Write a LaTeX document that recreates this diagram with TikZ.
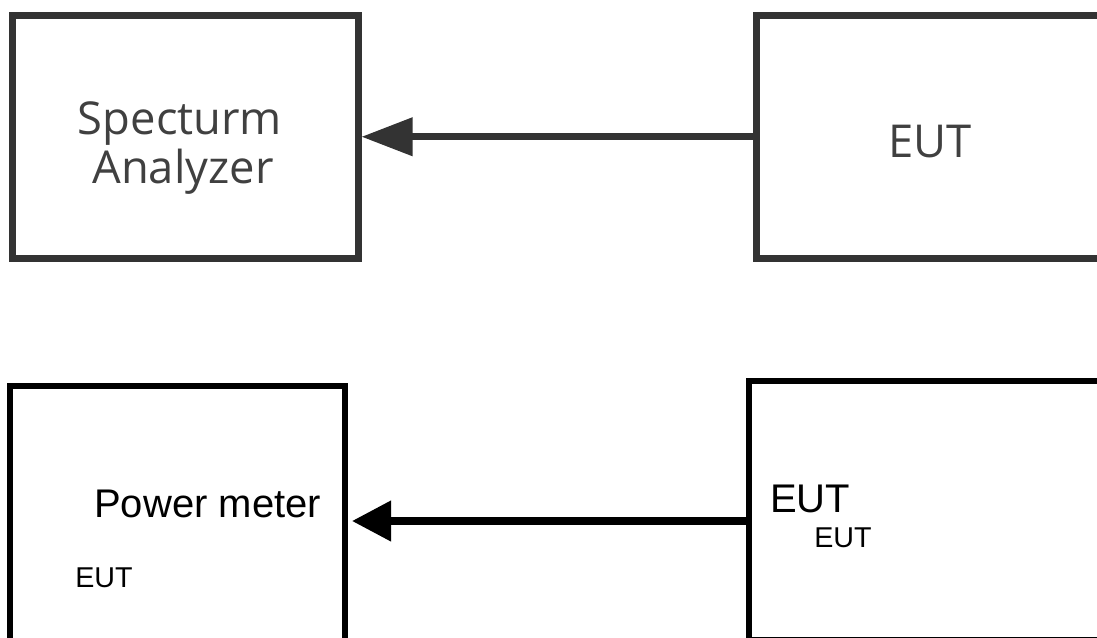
\documentclass[tikz,border=0pt]{standalone}
\usepackage{fontspec}
\setmainfont{Liberation Sans}
\newfontfamily\osans{Open Sans}
\usetikzlibrary{arrows.meta}
\definecolor{dk}{HTML}{333333}
\definecolor{tx}{HTML}{404040}
\begin{document}
\begin{tikzpicture}[x=0.75pt,y=-0.75pt,
  topbox/.style={draw=dk, line width=5.25pt, inner sep=0pt, rectangle},
  botbox/.style={draw=black, line width=4.5pt, inner sep=0pt, rectangle},
  toptext/.style={inner sep=0pt, anchor=base, text=tx, font=\osans\fontsize{34}{40}\selectfont},
  bigtext/.style={inner sep=0pt, anchor=base west, text=black, font=\fontsize{30}{36}\selectfont},
  smalltext/.style={inner sep=0pt, anchor=base west, text=black, font=\fontsize{21.5}{26}\selectfont},
  toparrow/.style={draw=dk, line width=5.25pt, -{Triangle[length=38.25pt,width=27.75pt]}},
  botarrow/.style={draw=black, line width=5.5pt, -{Triangle[length=29.25pt,width=29.25pt]}}]
\useasboundingbox (0,0) rectangle (1097,637);
\clip (0,0) rectangle (1097,637);
% top row
\node[topbox, minimum width=259.5pt, minimum height=182.6pt] (sa) at (185,136.75) {};
\node[topbox, minimum width=265.5pt, minimum height=182.6pt] (eut1) at (933,136.75) {};
\draw[toparrow] (eut1.west) -- (sa.east);
\node[toptext] (t1) at (180,134) {Specturm};
\node[toptext] (t2) at (183,183) {Analyzer};
\node[toptext] (t3) at (930,157) {EUT};
% bottom row
\node[botbox, minimum width=251.25pt, minimum height=198pt] (pm) at (177.5,518) {};
\node[botbox, minimum width=271.1pt, minimum height=193.9pt] (eut2) at (929.25,510.25) {};
\coordinate (ay) at (0,521);
\draw[botarrow] (eut2.west |- ay) -- ([xshift=3pt]pm.east |- ay);
\node[bigtext] (b1) at (94,517) {Power meter};
\node[smalltext] (b2) at (75,587) {EUT};
\node[bigtext] (b3) at (770,512) {EUT};
\node[smalltext] (b4) at (814,547) {EUT};
\end{tikzpicture}
\end{document}
